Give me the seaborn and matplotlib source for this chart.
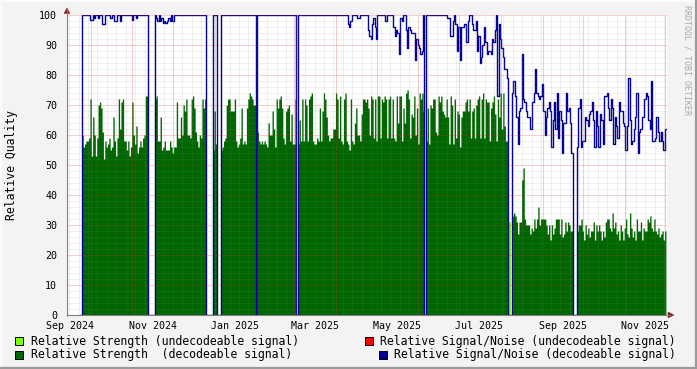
import numpy as np
import pandas as pd
import matplotlib
matplotlib.use("Agg")
import matplotlib.pyplot as plt
import matplotlib.dates as mdates
from matplotlib.patches import Rectangle, Polygon
from matplotlib.lines import Line2D
import seaborn as sns

nan = np.nan

# ---------------------------------------------------------------- data
START = "2024-09-13 11:00"      # first daily sample (left edge of the graph)
SPAN_DAYS = 444.8               # time span shown on the x axis

tick_labels = ["Sep 2024", "Nov 2024", "Jan 2025", "Mar 2025",
               "May 2025", "Jul 2025", "Sep 2025", "Nov 2025"]
y_ticks = [0, 10, 20, 30, 40, 50, 60, 70, 80, 90, 100]

# daily relative strength (decodeable signal), per receiving period
strength_s1 = [60, 56, 57, 58, 58, 59, 72, 53, 66, 60, 53, 59, 70, 71, 69, 61, 52,
               58, 56, 57, 59, 55, 56, 66, 58, 53, 59, 72, 62, 71, 72, 58, 58, 55,
               58, 53, 56, 71, 60, 57, 63, 54, 56, 58, 56, 59, 60, 73, 73]
strength_s2 = [72, 73, 58, 58, 66, 55, 56, 58, 55, 55, 55, 58, 56, 54, 56, 56, 71,
               59, 59, 66, 60, 70, 68, 72, 60, 60, 59, 72, 73, 69, 61, 58, 56, 60,
               59, 72, 69, 72]
strength_s2b = [55, 68, 57]
strength_s3 = [55, 56, 58, 59, 70, 72, 72, 68, 68, 68, 72, 58, 56, 57, 59, 69, 57,
               58, 57, 69, 72, 74, 73, 72, 70, 70]
strength_s4 = [61, 58, 57, 58, 57, 58, 57, 56, 64, 60, 60, 68, 62, 56, 72, 69, 72,
               73, 69, 59, 57, 68, 69, 70, 58, 67, 57, 57, 72]
strength_s5 = [57, 65, 58, 72, 58, 72, 70, 58, 72, 73, 74, 58, 57, 57, 59, 58, 69,
               58, 68, 74, 72, 66, 60, 58, 59, 59, 62, 62, 74, 72, 59, 73, 58, 57,
               72, 74, 58, 57, 55, 72, 58, 57, 64, 69, 60, 60, 58, 67, 72, 72,
               71, 72, 69, 60, 73, 72, 59, 72, 58, 73, 73, 59, 72, 71, 73, 72, 59,
               72, 73, 59, 72, 59, 58, 73, 64, 73, 73, 58, 69, 64, 74, 75, 72, 59,
               67, 66, 73, 60, 69, 57, 74, 72, 74, 68]
strength_s6 = [58, 69, 57, 70, 69, 72, 72, 61, 60, 73, 71, 73, 68, 67, 66, 72, 66,
               57, 73, 70, 57, 72, 59, 68, 67, 56, 66, 68, 68,
               71, 72, 68, 72, 59, 68, 69, 59, 70, 72, 73, 59, 72, 74, 59, 72, 71,
               71, 58, 69, 71, 73, 67, 58, 72, 66, 74, 62, 74, 63, 58, 58]
strength_s7 = [33, 34, 33, 31, 27, 31, 31, 45, 49, 32, 30, 30, 30, 27, 29, 28, 32,
               29, 32, 36, 30, 32, 32, 32, 32, 30, 27, 30, 25, 30, 27, 29, 32, 32,
               32, 27, 32, 26, 27, 31, 28, 31, 30, 28, 28]
strength_s8 = [28, 30, 30, 32, 28, 25, 30, 27, 29, 26, 28, 28, 31, 25, 30, 28, 30,
               28, 25, 28, 26, 31, 32, 32, 29, 28, 34, 29, 31, 27, 28, 25, 30, 28,
               25, 29, 32, 27, 26, 34, 29, 26, 28, 25, 32, 28, 28, 31, 25, 29, 28,
               28, 32, 31, 33, 29, 28, 32, 28, 27, 29, 26, 27, 28, 25, 28]

# daily relative signal/noise (decodeable signal), per receiving period
snr_s1 = [100, 100, 100, 100, 100, 100, 98.5, 98.5, 100, 99,
          100, 100, 99, 100, 100, 97, 97, 100, 100, 100,
          100, 99, 100, 100, 98, 98, 100, 100, 98, 100,
          100, 100, 100, 100, 100, 100, 100, 98.5, 100, 100,
          99, 100, 100, 100, 100, 100, 100, 100, 100]
snr_s2 = [100, 99, 98, 100, 98, 99, 97.5, 98, 97.5, 98, 99, 98, 100, 98,
          100, 100, 100, 100, 100, 100, 100, 100, 100, 100, 100, 100,
          100, 100, 100, 100, 100, 100, 100, 100, 100, 100, 100, 100]
snr_s2b = [100, 100, 100]
snr_s3 = [100] * 26
snr_s4 = [100] * 29
snr_s5 = [100, 100, 100, 100, 100, 100, 100, 100, 100, 100, 100, 100, 100, 100,
          100, 100, 100, 100, 100, 100, 100, 100, 100, 100, 100, 100, 100, 100,
          100, 100, 100, 100, 100, 100, 100, 100, 100,
          97, 96, 98, 100, 100, 100, 100, 99, 99, 100, 100, 100, 100,
          100, 100, 95, 93, 92, 97, 99, 96, 92, 100, 100, 100, 100, 100, 100,
          98, 100, 100, 100, 100, 100, 96, 93, 95, 94, 87, 99, 98, 100, 100,
          95, 89, 96, 95, 94, 94, 94, 85, 92, 90, 89, 87, 88, 100]
snr_s6 = [100, 100, 100, 100, 100, 100, 100, 100, 100, 100, 100, 100, 100, 100,
          100, 100, 99, 99, 93, 93, 98, 100, 97, 88, 96, 85, 96, 96, 97,
          97, 91, 98, 100, 100, 97, 95, 95, 98, 88, 93, 84, 86, 90, 96, 91,
          87, 88, 88, 87, 92, 91, 95, 100, 73, 97, 92, 89, 86, 82, 82, 79]
snr_s7 = [74, 78, 73, 66, 57, 68, 69, 87, 72, 71, 68, 66, 66, 62, 62, 71, 74, 82,
          74, 73, 72, 73, 77, 68, 60, 66, 69, 71, 68, 56, 65, 71, 62, 74, 59, 68,
          65, 54, 64, 64, 74, 68, 69, 64, 54]
snr_s8 = [56, 69, 72, 56, 58, 58, 66, 65, 63, 67, 68, 71, 65, 56, 68, 63, 56, 67,
          65, 57, 73, 73, 74, 69, 65, 72, 69, 57, 66, 63, 59, 71, 68, 68, 64, 63,
          55, 63, 79, 65, 57, 58, 62, 66, 74, 54, 61, 62, 66, 66, 72, 74, 73, 65,
          62, 78, 58, 58, 59, 66, 61, 58, 61, 58, 55, 62]

# undecodeable reception (only a few days in July 2025)
weak_strength = [29, 31, 30]

# no-reception days between the periods
gap_a = [0, 0, 0, 0, 0]
gap_b = [0, 0, 0]
gap_c = [0]

strength = ([nan] * 11 + strength_s1 + gap_a + strength_s2 + gap_a + strength_s2b
            + gap_b + strength_s3 + gap_c + strength_s4 + gap_c + strength_s5
            + gap_c + strength_s6 + gap_b + strength_s7 + gap_b + strength_s8)
snr = ([nan] * 10 + gap_c + snr_s1 + gap_a + snr_s2 + gap_a + snr_s2b
       + gap_b + snr_s3 + gap_c + snr_s4 + gap_c + snr_s5
       + gap_c + snr_s6 + gap_b + snr_s7 + gap_b + snr_s8)
n_before_weak = (11 + len(strength_s1) + 5 + len(strength_s2) + 5 + 3 + 3
                 + len(strength_s3) + 1 + len(strength_s4) + 1 + len(strength_s5)
                 + 1 + len(strength_s6))
weak = [nan] * n_before_weak + weak_strength + [nan] * (len(strength) - n_before_weak - 3)

# ---------------------------------------------------------------- style
sns.set_style("white")
plt.rcParams["font.family"] = ["DejaVu Sans Mono"]

W, H = 697, 369
L, R, T, B = 67, 667, 15, 315
BACK = "#F3F3F3"
DGREEN = "#006600"
LGREEN = "#80FF00"
BLUE = "#000096"
MINOR = (0.55, 0.55, 0.55, 0.26)
MAJOR = (0.85, 0.15, 0.15, 0.45)
AXIS = "#808080"
ARROW = "#8B1A1A"
PX = 0.72   # one pixel in points

fig = plt.figure(figsize=(W / 100, H / 100), dpi=100, facecolor=BACK)
ax = fig.add_axes([L / W, 1 - B / H, (R - L) / W, (B - T) / H])
ax.set_facecolor("white")

t0 = mdates.date2num(pd.Timestamp(START))
n = len(strength)
edges = t0 + np.arange(n + 1)

s_ext = np.array(strength + [strength[-1]], dtype=float)
w_ext = np.array(weak + [weak[-1]], dtype=float)
q_ext = np.array(snr + [snr[-1]], dtype=float)

ax.fill_between(edges, 0, s_ext, step="post", color=DGREEN, lw=0, zorder=1)
ax.fill_between(edges, 0, w_ext, step="post", color=LGREEN, lw=0, zorder=1)

df = pd.DataFrame({"t": edges, "snr": q_ext})
sns.lineplot(data=df, x="t", y="snr", ax=ax, color=BLUE, lw=1.0,
             drawstyle="steps-post", estimator=None, zorder=2)

ax.set_xlim(t0, t0 + SPAN_DAYS)
ax.set_ylim(0, 100)

# grid (drawn over the data like rrdtool does)
dots = (0, (1, 1))
for v in range(2, 100, 2):
    if v % 10:
        ax.axhline(v, color=MINOR, lw=PX, ls=dots, zorder=3, snap=True)
for v in range(10, 101, 10):
    ax.axhline(v, color=MAJOR, lw=PX, ls=dots, zorder=3, clip_on=False, snap=True)
x_lo, x_hi = mdates.num2date(t0), mdates.num2date(t0 + SPAN_DAYS)
weeks = pd.date_range(x_lo.date(), x_hi.date(), freq="W-SUN")
months = pd.date_range(x_lo.date(), x_hi.date(), freq="MS")
for d in weeks:
    if d.day != 1:
        ax.axvline(mdates.date2num(d), color=MINOR, lw=PX, ls=dots, zorder=3, snap=True)
for d in months:
    ax.axvline(mdates.date2num(d), color=MAJOR, lw=PX, ls=dots, zorder=3, snap=True)

# ticks and labels
label_pos = [mdates.date2num(pd.to_datetime("1 " + s) + pd.Timedelta(days=15))
             for s in tick_labels]
ax.set_xticks(label_pos)
ax.set_xticklabels(tick_labels)
ax.set_xticks([mdates.date2num(d) for d in months], minor=True)
ax.set_yticks(y_ticks)
ax.set_yticklabels([str(v) for v in y_ticks])
ax.tick_params(axis="x", which="major", length=0, pad=4.5, labelsize=7.2,
               labelcolor="black")
ax.tick_params(axis="x", which="minor", length=4, direction="inout",
               color=MAJOR, width=PX)
ax.tick_params(axis="y", which="major", length=4, direction="inout",
               color=MAJOR, width=PX, pad=5.0, labelsize=7.2, labelcolor="black")
ax.set_xlabel("")
ax.set_ylabel("")
for sp in ax.spines.values():
    sp.set_visible(False)

# axes lines with arrows
fig.add_artist(Line2D([L / W, L / W], [1 - (B + 0.5) / H, 1 - 10 / H],
                      color=AXIS, lw=0.8, transform=fig.transFigure))
fig.add_artist(Line2D([L / W, 670 / W], [1 - B / H, 1 - B / H],
                      color=AXIS, lw=0.8, transform=fig.transFigure))


def px(x, y):
    return (x / W, 1 - y / H)


fig.add_artist(Polygon([px(64, 13.5), px(70, 13.5), px(67, 8)], closed=True,
                       facecolor=ARROW, edgecolor=ARROW, lw=0.3,
                       transform=fig.transFigure))
fig.add_artist(Polygon([px(668, 312), px(668, 318), px(674, 315)], closed=True,
                       facecolor=ARROW, edgecolor=ARROW, lw=0.3,
                       transform=fig.transFigure))

# texts
fig.text(12 / W, 1 - 165 / H, "Relative Quality", rotation=90, ha="center",
         va="center", fontsize=8.3, color="black")
fig.text(687.5 / W, 1 - 60 / H, "RRDTOOL / TOBI OETIKER", rotation=270,
         ha="center", va="center", fontsize=6, color="#A8A8A8")

# legend
legend_items = [
    (15, 337, LGREEN, 30.5, "Relative Strength (undecodeable signal)"),
    (365, 337, "#FF0000", 380.5, "Relative Signal/Noise (undecodeable signal)"),
    (15, 350.5, DGREEN, 30.5, "Relative Strength  (decodeable signal)"),
    (379, 350.5, BLUE, 394.5, "Relative Signal/Noise (decodeable signal)"),
]
for sx, sy, col, tx, txt in legend_items:
    fig.add_artist(Rectangle(px(sx, sy + 8), 8 / W, 8 / H, facecolor=col,
                             edgecolor="black", lw=0.7, transform=fig.transFigure))
    fig.text(tx / W, 1 - (sy + 4.3) / H, txt, ha="left", va="center",
             fontsize=8.3, color="black")

# 3-D frame
fig.add_artist(Line2D([0, 1], [1 - 0.5 / H, 1 - 0.5 / H], color="#FCFCFC", lw=1.4,
                      transform=fig.transFigure))
fig.add_artist(Line2D([0.5 / W, 0.5 / W], [0, 1], color="#FCFCFC", lw=1.4,
                      transform=fig.transFigure))
fig.add_artist(Line2D([0, 1], [1.2 / H, 1.2 / H], color="#9A9A9A", lw=1.6,
                      transform=fig.transFigure))
fig.add_artist(Line2D([1 - 1.2 / W, 1 - 1.2 / W], [0, 1], color="#9A9A9A", lw=1.6,
                      transform=fig.transFigure))

fig.savefig("out.png", dpi=100, facecolor=BACK)
